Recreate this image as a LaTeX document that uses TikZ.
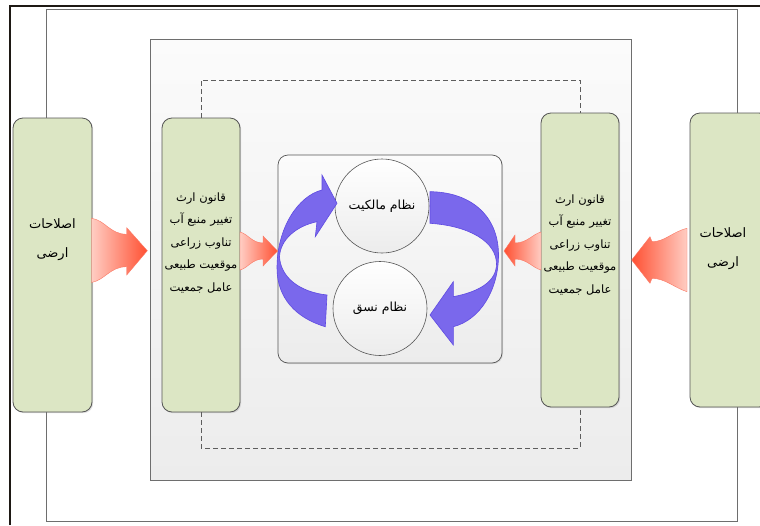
\documentclass[tikz,border=0pt]{standalone}
\usepackage{fontspec}
\newfontfamily\arabicfont[Script=Arabic]{DejaVu Sans}
\TeXXeTstate=1
\usetikzlibrary{shadows}
\newcommand{\fa}[1]{\beginR #1\endR}
\definecolor{boxgreen}{RGB}{220,230,196}
\definecolor{boxline}{RGB}{85,85,85}
\definecolor{connline}{RGB}{110,110,110}
\definecolor{framecol}{RGB}{30,25,20}
\definecolor{redlight}{RGB}{255,205,195}
\definecolor{reddark}{RGB}{255,80,50}
\definecolor{redline}{RGB}{250,120,100}
\definecolor{bluefill}{RGB}{122,104,236}
\definecolor{blueline}{RGB}{95,75,225}
\definecolor{panelhi}{RGB}{251,251,251}
\definecolor{panello}{RGB}{236,236,236}
\begin{document}
\begin{tikzpicture}[x=1pt,y=-1pt,
  greenbox/.style={draw=boxline, fill=boxgreen, rounded corners=10pt, line width=0.8pt,
    minimum width=79pt, minimum height=294pt, inner sep=0pt,
    drop shadow={opacity=0.25, shadow xshift=1.2pt, shadow yshift=-1.2pt}},
  panel/.style={draw=connline, top color=panelhi, bottom color=panello, line width=0.7pt,
    minimum width=481pt, minimum height=441pt, inner sep=0pt},
  centerbox/.style={draw=boxline, top color=panelhi, bottom color=panello, rounded corners=10pt,
    line width=0.7pt, minimum width=224pt, minimum height=208pt, inner sep=0pt,
    drop shadow={opacity=0.2, shadow xshift=1pt, shadow yshift=-1pt}},
  ball/.style={circle, draw=boxline, top color=white, bottom color=panello, line width=0.6pt,
    minimum size=94pt, inner sep=0pt},
  conn/.style={draw=connline, line width=0.7pt},
  dashconn/.style={draw=connline!85!black, line width=0.7pt, dash pattern=on 5pt off 3pt},
  redarrow/.style={draw=redline, line width=0.4pt},
  bluearrow/.style={fill=bluefill, draw=blueline, line width=0.6pt},
  txt/.style={font=\arabicfont\fontsize{11.5}{22.5}\selectfont, align=center, inner sep=0pt, text=black},
  balltxt/.style={font=\arabicfont\fontsize{12.5}{15}\selectfont, align=center, inner sep=0pt, text=black},
  bigtxt/.style={font=\arabicfont\fontsize{13}{29}\selectfont, align=center, inner sep=0pt, text=black}
]
\useasboundingbox (0,0) rectangle (760,525);
\clip (0,0) rectangle (760,525);
\fill[white] (0,0) rectangle (760,525);

% page frame
\draw[line width=2pt, framecol] (9.5,525) -- (9.5,5.5) -- (760,5.5);

% inner panel
\node[panel] (P) at (390.5,259.5) {};

% green boxes
\node[greenbox] (L1) at (52.5,265) {};
\node[greenbox, minimum width=78pt] (L2) at (201,265) {};
\node[greenbox, minimum width=78pt] (R2) at (580,260) {};
\node[greenbox] (R1) at (729.5,260) {};

% outer connector
\coordinate (topy) at (0,9);
\coordinate (boty) at (0,521);
\draw[conn] ([xshift=-6.5pt]L1.north) -- ([xshift=-6.5pt]L1.north |- topy) -| ([xshift=7.5pt]R1.north);
\draw[conn] ([xshift=-6.5pt]L1.south) -- ([xshift=-6.5pt]L1.south |- boty) -| ([xshift=7.5pt]R1.south);

% dashed connector
\coordinate (dtop) at (0,80);
\coordinate (dbot) at (0,448);
\draw[dashconn] (L2.north) -- (L2.north |- dtop) -| (R2.north);
\draw[dashconn] (L2.south) -- (L2.south |- dbot) -| (R2.south);

% centre box and circles
\node[centerbox] (C) at (390,259) {};
\node[ball] (O1) at (382,206) {};
\node[ball] (O2) at (380,308.5) {};

% blue circular arrows
\path[bluearrow] (325.3,326.7) .. controls (296,318) and (277,298) .. (277,268)
  .. controls (277,228) and (298,196) .. (322,190) -- (322,175) -- (337,203.3)
  -- (315.3,236.7) -- (317,221.7) .. controls (296,226) and (280,240) .. (279.5,257)
  .. controls (281,278) and (300,292) .. (327,295) -- cycle;
\path[bluearrow] (430,191.7) .. controls (470,192) and (498.5,215) .. (498.5,255)
  .. controls (498.5,290) and (480,320) .. (453.3,326.7) -- (453.3,345) -- (430,315)
  -- (453.3,281.7) -- (453.3,296.7) .. controls (478,292) and (496.5,282) .. (496.5,264)
  .. controls (496.5,242) and (470,226) .. (430,223.3) -- cycle;

% red arrows
\path[redarrow, left color=redlight, right color=reddark]
  (91.5,218.3) .. controls (105,220) and (110,234.3) .. (126.7,234.3) -- (126.7,227.7)
  -- (147.3,250.7) -- (126.7,275) -- (126.7,266.7) .. controls (110,266.7) and (105,280) .. (91.5,282.5) -- cycle;
\path[redarrow, left color=redlight, right color=reddark]
  (240,232) .. controls (248,234) and (252,243) .. (263,243) -- (263,236) -- (277.5,251)
  -- (263,266) -- (263,259) .. controls (252,259) and (248,268) .. (240,270) -- cycle;
\path[redarrow, left color=reddark, right color=redlight]
  (541,232) .. controls (533,234) and (527,243) .. (515,243) -- (515,235) -- (504,251)
  -- (515,266) -- (515,259) .. controls (527,259) and (533,268) .. (541,270) -- cycle;
\path[redarrow, left color=reddark, right color=redlight]
  (687,228.3) .. controls (672,232) and (665,241.7) .. (652,241.7) -- (650,236.7) -- (631.7,260)
  -- (650,283.3) -- (652,278.3) .. controls (665,278.3) and (675,288) .. (687,291.7) -- cycle;

% texts
\node[bigtxt] (tL1) at (52.5,240) {\fa{اصلاحات}\\\fa{ارضی}};
\node[txt] (tL2) at (201,243) {\fa{قانون ارث}\\\fa{تغییر منبع آب}\\\fa{تناوب زراعی}\\\fa{موقعیت طبیعی}\\\fa{عامل جمعیت}};
\node[txt] (tR2) at (580,245) {\fa{قانون ارث}\\\fa{تغییر منبع آب}\\\fa{تناوب زراعی}\\\fa{موقعیت طبیعی}\\\fa{عامل جمعیت}};
\node[bigtxt] (tR1) at (723,249) {\fa{اصلاحات}\\\fa{ارضی}};
\node[balltxt] (tO1) at (O1) {\fa{نظام مالکیت}};
\node[balltxt] (tO2) at (O2) {\fa{نظام نسق}};
\end{tikzpicture}
\end{document}
